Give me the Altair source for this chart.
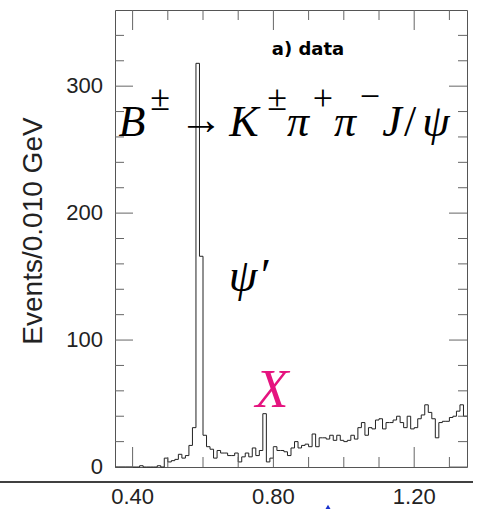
import altair as alt
import pandas as pd

# ---- data ----
bin_start = 0.35
bin_width = 0.010
counts = [
    0, 0, 0, 0, 0, 0, 0, 1, 0, 0,
    0, 0, 1, 0, 7, 4, 5, 6, 10, 7,
    9, 17, 31, 318, 166, 25, 16, 14, 7, 13,
    11, 11, 9, 9, 11, 4, 8, 11, 8, 15,
    9, 13, 42, 4, 7, 16, 13, 13, 12, 9,
    15, 20, 15, 17, 18, 16, 26, 16, 23, 23,
    22, 25, 21, 25, 21, 20, 21, 25, 22, 31,
    35, 25, 31, 30, 37, 38, 30, 35, 35, 37,
    40, 35, 31, 40, 30, 31, 38, 41, 49, 43,
    38, 23, 35, 36, 36, 39, 40, 44, 49, 40,
]
edges = [round(bin_start + i * bin_width, 3) for i in range(len(counts) + 1)]
hist = pd.DataFrame({"m": edges, "n": counts + [counts[-1]]})

y_major = [0, 100, 200, 300]
y_minor = [20, 40, 60, 80, 120, 140, 160, 180, 220, 240, 260, 280, 320, 340]
x_major = [0.40, 0.80, 1.20]
x_minor = [0.50, 0.60, 0.70, 0.90, 1.00, 1.10, 1.30]

W, H = 352, 457
TICK = "#666666"
LAB = "#222222"
xs = alt.Scale(domain=[0.35, 1.35], nice=False, zero=False)
ys = alt.Scale(domain=[0, 360], nice=False)

hist_line = alt.Chart(hist).mark_line(
    interpolate="step-after", color="#222222", strokeWidth=1
).encode(
    x=alt.X("m:Q", scale=xs, axis=None),
    y=alt.Y("n:Q", scale=ys, axis=None),
)


def yticks(vals, length):
    df = pd.DataFrame({"v": vals})
    left = alt.Chart(df).mark_rule(color=TICK, strokeWidth=1).encode(
        y=alt.Y("v:Q", scale=ys, axis=None), x=alt.value(0), x2=alt.value(length))
    right = alt.Chart(df).mark_rule(color=TICK, strokeWidth=1).encode(
        y=alt.Y("v:Q", scale=ys, axis=None), x=alt.value(W - length), x2=alt.value(W))
    return [left, right]


def xticks(vals, length):
    df = pd.DataFrame({"v": vals})
    bottom = alt.Chart(df).mark_rule(color=TICK, strokeWidth=1).encode(
        x=alt.X("v:Q", scale=xs, axis=None), y=alt.value(H - length), y2=alt.value(H))
    top = alt.Chart(df).mark_rule(color=TICK, strokeWidth=1).encode(
        x=alt.X("v:Q", scale=xs, axis=None), y=alt.value(0), y2=alt.value(length))
    return [bottom, top]


# tick labels
ylab = alt.Chart(pd.DataFrame({"v": y_major})).mark_text(
    align="right", baseline="middle", fontSize=22, font="Liberation Sans", color=LAB
).encode(y=alt.Y("v:Q", scale=ys, axis=None), x=alt.value(-12), text=alt.Text("v:Q"))
xlab = alt.Chart(pd.DataFrame({"v": x_major})).mark_text(
    align="center", baseline="middle", fontSize=22, font="Liberation Sans", color=LAB
).encode(x=alt.X("v:Q", scale=xs, axis=None), y=alt.value(H + 30),
         text=alt.Text("v:Q", format=".2f"))

dummy = pd.DataFrame({"d": [0]})


def label(txt, x, y, size, color="black", font="Liberation Serif", style="italic",
          align="center", weight="normal", baseline="alphabetic", angle=None):
    kw = dict(text=txt, fontSize=size, font=font, fontStyle=style, align=align,
              baseline=baseline, color=color, fontWeight=weight)
    if angle is not None:
        kw["angle"] = angle
    return alt.Chart(dummy).mark_text(**kw).encode(x=alt.value(x), y=alt.value(y))


texts = [
    label("a) data", 193, 45, 18, font="DejaVu Sans", style="normal", weight="bold"),
    label("B", 17, 126, 44),
    label("±", 45, 100, 36, style="normal"),
    label("→", 86, 124, 44, style="normal"),
    label("K", 129, 126, 44),
    label("±", 162, 100, 36, style="normal"),
    label("π", 183, 126, 44),
    label("+", 208, 100, 36, style="normal"),
    label("π", 230, 126, 44),
    label("−", 255, 98, 36, style="normal"),
    label("J", 277, 126, 44),
    label("/", 295, 126, 44, style="normal"),
    label("ψ", 321, 126, 44),
    label("ψ", 128, 281, 46),
    label("′", 151, 281, 46, style="normal"),
    label("X", 157, 397, 54, color="#e5147f"),
    label("Events/0.010 GeV", -81, 221, 28, font="Liberation Sans", style="normal",
          baseline="middle", angle=270, color=LAB),
]

hline = alt.Chart(dummy).mark_rule(color="black", strokeWidth=1.5).encode(
    y=alt.value(472), x=alt.value(-115), x2=alt.value(358))
blob = alt.Chart(dummy).mark_point(shape="triangle-up", filled=True, color="#1a33cc",
                                   size=30, opacity=1).encode(
    x=alt.value(213), y=alt.value(497))

layers = [hist_line] + yticks(y_major, 18) + yticks(y_minor, 9) + \
    xticks(x_major, 20) + xticks(x_minor, 10) + [ylab, xlab] + texts + [hline, blob]

chart = alt.layer(*layers).properties(
    width=W, height=H,
    autosize=alt.AutoSizeParams(type="none"),
    padding={"left": 115, "top": 10, "right": 11, "bottom": 42},
).configure_view(stroke="#555555", strokeWidth=1)

chart.save("out.html", embed_options={"renderer": "svg", "actions": False})
